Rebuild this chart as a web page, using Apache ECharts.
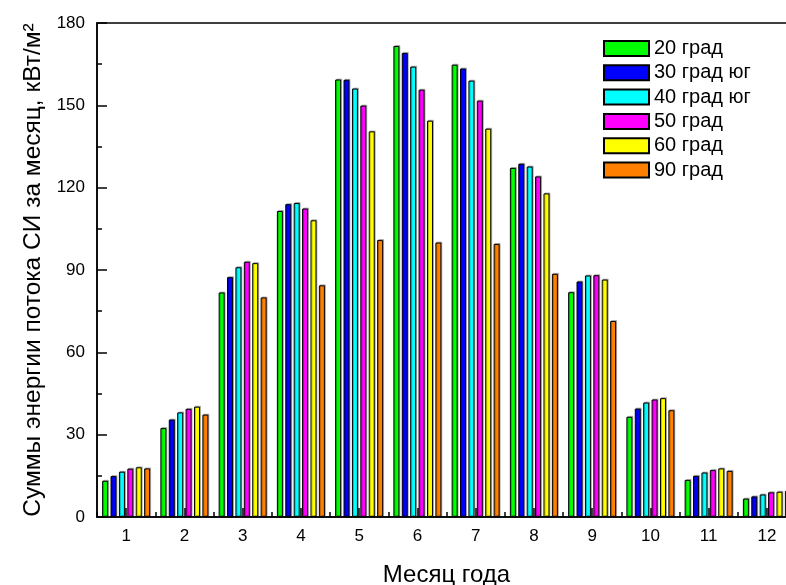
<!DOCTYPE html>
<html><head><meta charset="utf-8">
<script src="https://cdn.jsdelivr.net/npm/echarts@6/dist/echarts.min.js"></script>
<style>html,body{margin:0;padding:0;background:#fff}#c{width:786px;height:585px}</style>
</head><body><div id="c"></div>
<script>
var months = ['1','2','3','4','5','6','7','8','9','10','11','12'];
var seriesNames = ['20 град','30 град юг','40 град юг','50 град','60 град','90 град'];
var colors = ['#00ff00','#0000ff','#00ffff','#ff00ff','#ffff00','#ff8000'];
var d20 = [13.2, 32.4, 81.8, 111.5, 159.4, 171.6, 164.8, 127.2, 81.9, 36.5, 13.5, 6.7];
var d30 = [14.9, 35.5, 87.4, 114.0, 159.3, 169.1, 163.4, 128.7, 85.8, 39.5, 15.0, 7.5];
var d40 = [16.5, 38.1, 91.0, 114.4, 156.1, 164.1, 159.0, 127.7, 88.0, 41.7, 16.2, 8.2];
var d50 = [17.6, 39.4, 93.0, 112.4, 149.9, 155.7, 151.7, 124.1, 88.1, 42.8, 17.1, 9.0];
var d60 = [18.1, 40.2, 92.5, 108.1, 140.5, 144.4, 141.5, 117.9, 86.5, 43.3, 17.7, 9.2];
var d90 = [17.7, 37.3, 80.0, 84.4, 100.9, 100.0, 99.5, 88.6, 71.4, 38.9, 16.8, 9.5];
var yTicks = {min: 0, max: 180, interval: 30};
var allData = [d20, d30, d40, d50, d60, d90];

var font = 'Liberation Sans, Arial, sans-serif';
var chart = echarts.init(document.getElementById('c'), null, {renderer: 'canvas'});
var series = allData.map(function (d, i) {
  return {
    name: seriesNames[i], type: 'bar', data: d,
    xAxisIndex: 0, yAxisIndex: 0,
    barWidth: 6, barGap: '40%',
    itemStyle: {color: colors[i], borderColor: '#000', borderWidth: 1,
      shadowColor: 'rgba(0,0,0,0.25)', shadowOffsetX: 1, shadowOffsetY: -1, shadowBlur: 0}
  };
});
chart.setOption({
  animation: false,
  backgroundColor: '#fff',
  grid: {left: 97, top: 23, width: 699, height: 494, show: true, borderColor: '#000', borderWidth: 1.5,
    containLabel: false, outerBoundsMode: 'none'},
  legend: {
    orient: 'vertical', left: 603, top: 38.5, padding: 0, itemWidth: 45, itemHeight: 15, itemGap: 4.3,
    data: seriesNames,
    textStyle: {fontFamily: font, fontSize: 20, color: '#000', lineHeight: 20},
    icon: 'rect'
  },
  xAxis: [{
    type: 'category', data: months, position: 'bottom',
    name: 'Месяц года', nameLocation: 'middle', nameGap: 46,
    nameTextStyle: {fontFamily: font, fontSize: 24, color: '#000'},
    axisLine: {lineStyle: {color: '#000', width: 1.5}},
    axisTick: {show: true, inside: true, length: 5, alignWithLabel: false, lineStyle: {color: '#000', width: 1.5}},
    axisLabel: {fontFamily: font, fontSize: 17, color: '#000', margin: 11},
    splitLine: {show: false}
  }, {
    type: 'category', data: months, position: 'bottom',
    axisLine: {show: false},
    axisTick: {show: true, inside: true, length: 9, alignWithLabel: true, lineStyle: {color: '#000', width: 1.5}},
    axisLabel: {show: false}, splitLine: {show: false}
  }],
  yAxis: {
    type: 'value', min: yTicks.min, max: yTicks.max, interval: yTicks.interval,
    name: 'Суммы энергии потока СИ за месяц, кВт/м²', nameLocation: 'middle', nameGap: 45,
    nameTextStyle: {fontFamily: font, fontSize: 24.5, color: '#000'},
    axisLine: {show: true, lineStyle: {color: '#000', width: 1.5}},
    axisTick: {show: true, inside: true, length: 10, lineStyle: {color: '#000', width: 1.5}},
    minorTick: {show: true, splitNumber: 2, length: 5, lineStyle: {color: '#000', width: 1.5}},
    axisLabel: {fontFamily: font, fontSize: 17, color: '#000', margin: 12},
    splitLine: {show: false}
  },
  series: series
});
</script></body></html>
